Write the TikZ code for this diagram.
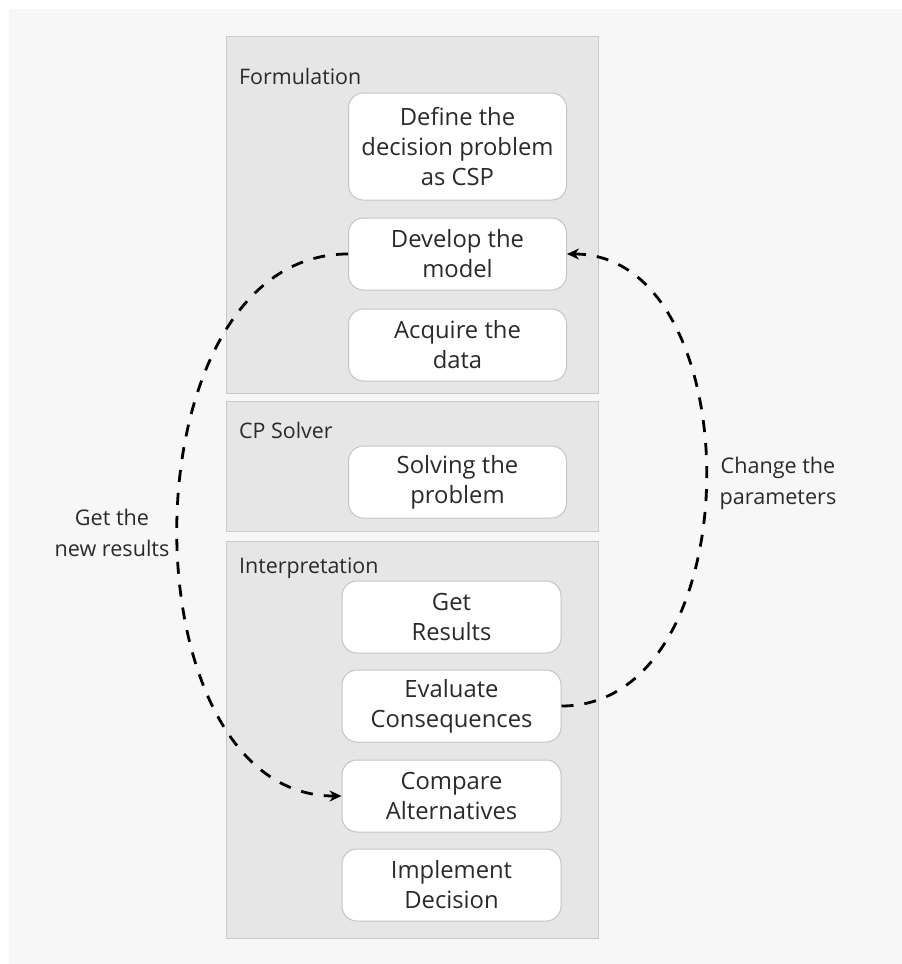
\documentclass[tikz,border=0pt]{standalone}
\usepackage{fontspec}
\setmainfont{Open Sans}
\usetikzlibrary{arrows.meta}

\definecolor{pagebg}{HTML}{F7F7F7}
\definecolor{panelfill}{HTML}{E6E6E6}
\definecolor{panelline}{HTML}{C9C9C9}
\definecolor{boxline}{HTML}{C4C4C4}
\definecolor{ink}{HTML}{2A2A2A}

\tikzset{
  panel/.style={draw=panelline, fill=panelfill, line width=1pt},
  paneltitle/.style={anchor=base west, inner sep=0pt, text=ink, font=\fontsize{21.4}{26}\selectfont},
  stepbox/.style={draw=boxline, fill=white, rounded corners=15pt, line width=1pt,
    minimum width=218pt, minimum height=72pt, inner sep=0pt, align=center, text=ink,
    font=\fontsize{23.8}{30}\selectfont},
  looplabel/.style={align=center, inner sep=0pt, text=ink, font=\fontsize{21.6}{31}\selectfont},
  loop/.style={dash pattern=on 12pt off 11pt, line width=2.8pt, black,
    -{Stealth[length=12pt,width=11pt]}},
}

\begin{document}
\begin{tikzpicture}[x=1pt,y=-1pt]
  % page
  \fill[white] (0,0) rectangle (902,964);
  \fill[pagebg] (9,9) rectangle (902,964);
  \useasboundingbox (0,0) rectangle (902,964);

  % stage panels
  \draw[panel] (226,36) rectangle (598,393);
  \draw[panel] (226,401) rectangle (598,531);
  \draw[panel] (226,541) rectangle (598,938);
  \node[paneltitle] (tform) at (239,84) {Formulation};
  \node[paneltitle] (tsolv) at (239,438) {CP Solver};
  \node[paneltitle] (tint)  at (239,573) {Interpretation};

  % steps
  \node[stepbox, minimum height=107pt] (define) at (457.5,146.5) {Define the\\decision problem\\as CSP};
  \node[stepbox] (develop) at (457.5,254) {Develop the\\model};
  \node[stepbox] (acquire) at (457.5,345) {Acquire the\\data};
  \node[stepbox] (solve)   at (457.5,482) {Solving the\\problem};
  \node[stepbox, minimum width=219pt] (results)   at (451.5,617) {Get\\Results};
  \node[stepbox, minimum width=219pt] (evaluate)  at (451.5,706) {Evaluate\\Consequences};
  \node[stepbox, minimum width=219pt] (compare)   at (451.5,796) {Compare\\Alternatives};
  \node[stepbox, minimum width=219pt] (implement) at (451.5,885) {Implement\\Decision};

  % feedback loops
  \draw[loop] (develop.west) .. controls (122,254) and (122,796) .. (compare.west);
  \draw[loop] (evaluate.east) .. controls (753,706) and (753,254) .. (develop.east);

  \node[looplabel] (newres) at (112,533) {Get the\\new results};
  \node[looplabel] (params) at (778,483) {Change the\\parameters};
\end{tikzpicture}
\end{document}
